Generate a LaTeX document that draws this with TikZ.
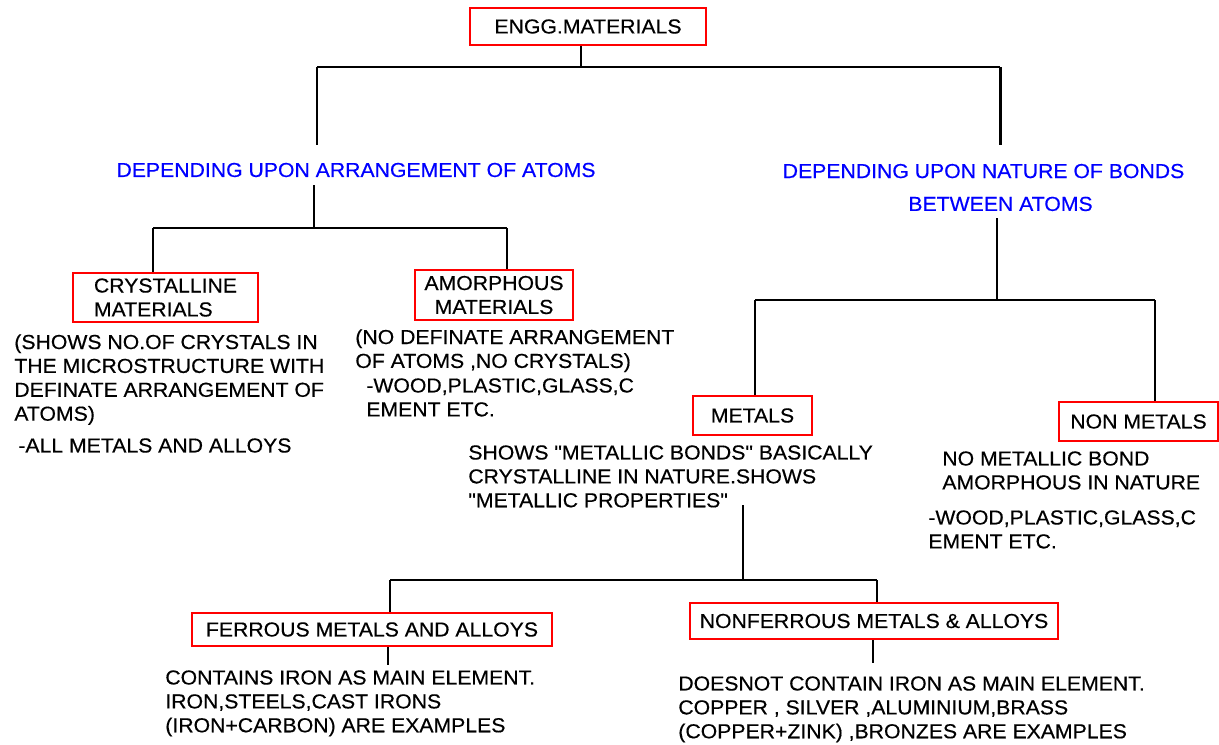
\documentclass[tikz,border=0pt]{standalone}
\usepackage{fontspec}
\setmainfont{Liberation Sans}[FakeStretch=1.05,FakeBold=0.4,Ligatures=TeXOff]
\usetikzlibrary{calc}
\begin{document}
\begin{tikzpicture}[x=0.02cm,y=-0.02cm,
  rbox/.style={draw=red,line width=1.4pt,inner sep=0pt,align=center,font=\fontsize{11.5}{13.6}\selectfont},
  txt/.style={anchor=north west,inner sep=0pt,align=left,font=\fontsize{11.5}{13.6}\selectfont},
  bluetxt/.style={inner sep=0pt,align=center,text=blue,font=\fontsize{11.5}{18.7}\selectfont},
  thk/.style={line width=1.7pt},
  thn/.style={line width=1.1pt}]
\useasboundingbox[fill=white] (0,0) rectangle (1219,744);
% boxes
\node[rbox,minimum width=4.72cm,minimum height=0.74cm] (top) at (588,26.5) {ENGG.MATERIALS};
\node[rbox,minimum width=3.7cm,minimum height=0.98cm,align=left] (crys) at (165.5,297.5) {CRYSTALLINE\\MATERIALS};
\node[rbox,minimum width=3.16cm,minimum height=1.0cm] (amor) at (494,295) {AMORPHOUS\\MATERIALS};
\node[rbox,minimum width=2.38cm,minimum height=0.78cm] (met) at (752.5,415.5) {METALS};
\node[rbox,minimum width=3.18cm,minimum height=0.78cm] (nonmet) at (1138.5,421.5) {NON METALS};
\node[rbox,minimum width=7.2cm,minimum height=0.66cm] (fer) at (372,629.5) {FERROUS METALS AND ALLOYS};
\node[rbox,minimum width=7.36cm,minimum height=0.72cm] (nfer) at (874,621) {NONFERROUS METALS \& ALLOYS};
% blue labels
\node[bluetxt] (arr) at (356,170) {DEPENDING UPON ARRANGEMENT OF ATOMS};
\node[bluetxt] (bond) at (983.5,187.5) {DEPENDING UPON NATURE OF BONDS\\\hspace*{0.68cm}BETWEEN ATOMS};
% texts
\node[txt] (crystxt) at (14,334) {(SHOWS NO.OF CRYSTALS IN\\THE MICROSTRUCTURE WITH\\DEFINATE ARRANGEMENT OF\\ATOMS)};
\node[txt] (crysex) at (18,438) {-ALL METALS AND ALLOYS};
\node[txt] (amortxt) at (355,329) {(NO DEFINATE ARRANGEMENT\\OF ATOMS ,NO CRYSTALS)};
\node[txt] (amorex) at (366,378) {-WOOD,PLASTIC,GLASS,C\\EMENT ETC.};
\node[txt] (mettxt) at (468,445) {SHOWS "METALLIC BONDS" BASICALLY\\CRYSTALLINE IN NATURE.SHOWS\\"METALLIC PROPERTIES"};
\node[txt] (nmtxt) at (942,451) {NO METALLIC BOND\\AMORPHOUS IN NATURE};
\node[txt] (nmex) at (928,510) {-WOOD,PLASTIC,GLASS,C\\EMENT ETC.};
\node[txt] (fertxt) at (165,670) {CONTAINS IRON AS MAIN ELEMENT.\\IRON,STEELS,CAST IRONS\\(IRON+CARBON) ARE EXAMPLES};
\node[txt] (nfertxt) at (678,676) {DOESNOT CONTAIN IRON AS MAIN ELEMENT.\\COPPER , SILVER ,ALUMINIUM,BRASS\\(COPPER+ZINK) ,BRONZES ARE EXAMPLES};
% junctions
\coordinate (j0) at (581,67);
\coordinate (jl) at (317,67);
\coordinate (jr) at (1000,67);
\coordinate (el) at (317,145);
\coordinate (er) at (1000,145);
\coordinate (sa) at (314,185);
\coordinate (ja) at (314,228);
\coordinate (ja1) at (153,228);
\coordinate (ja2) at (507,228);
\coordinate (sb) at (997,218);
\coordinate (jb) at (997,300);
\coordinate (jb1) at (755,300);
\coordinate (jb2) at (1155,300);
\coordinate (sm) at (743,505);
\coordinate (jm) at (743,580);
\coordinate (jm1) at (390,580);
\coordinate (jm2) at (877,580);
\coordinate (ef) at (388,665);
\coordinate (en) at (873,663);
% connectors
\draw[thn] (top.south -| j0) -- (j0);
\draw[thk] (jl) -- (jr);
\draw[thk] (jl) -- (el);
\draw[thk] (jr) -- (er);
\draw[thk] (sa) -- (ja);
\draw[thn] (ja1) -- (ja2);
\draw[thn] (ja1) -- (crys.north -| ja1);
\draw[thn] (ja2) -- (amor.north -| ja2);
\draw[thn] (sb) -- (jb);
\draw[thn] (jb1) -- (jb2);
\draw[thn] (jb1) -- (met.north -| jb1);
\draw[thn] (jb2) -- (nonmet.north -| jb2);
\draw[thn] (sm) -- (jm);
\draw[thn] (jm1) -- (jm2);
\draw[thn] (jm1) -- (fer.north -| jm1);
\draw[thn] (jm2) -- (nfer.north -| jm2);
\draw[thn] (fer.south -| ef) -- (ef);
\draw[thn] (nfer.south -| en) -- (en);
\end{tikzpicture}
\end{document}
